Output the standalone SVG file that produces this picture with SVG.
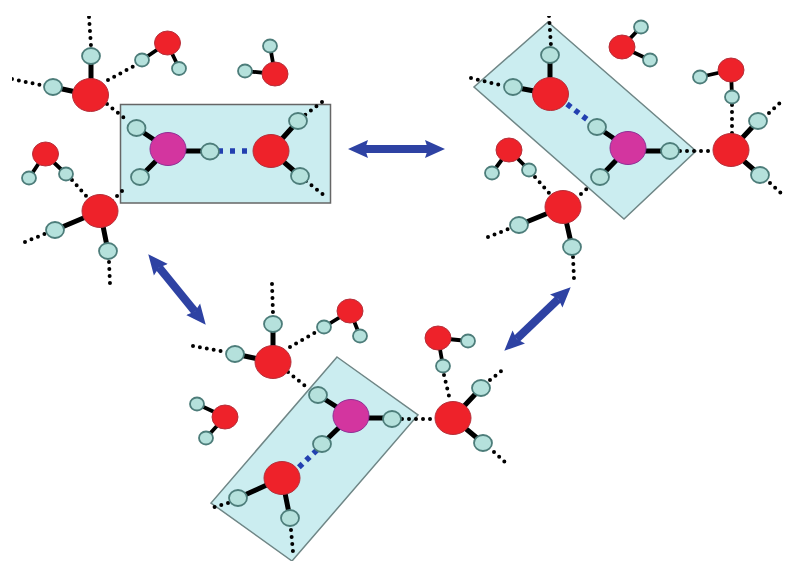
<svg xmlns="http://www.w3.org/2000/svg" width="800" height="574" viewBox="0 0 800 574">
<style>
.panel{fill:#cbedf0;stroke:#6f8686;stroke-width:1.5}
.O{fill:#ee2029;stroke:#b5303a;stroke-width:1}
.M{fill:#d3359f;stroke:#8f2f96;stroke-width:1}
.H{fill:#b5e1dc;stroke:#4d7d7a;stroke-width:1.800}
.b{stroke:#000;stroke-width:5;fill:none}
.bs{stroke:#000;stroke-width:3.800;fill:none}
.d{stroke:#000;stroke-width:4;stroke-linecap:round;stroke-dasharray:0 7;fill:none}
.hb{stroke:#2440b0;stroke-width:5.500;stroke-dasharray:5 5;fill:none}
.a{stroke:#2e43a3;stroke-width:8;fill:none;marker-start:url(#head);marker-end:url(#head)}
</style>
<defs>
<marker id="head" markerUnits="userSpaceOnUse" markerWidth="22" markerHeight="22" viewBox="0 0 22 22" refX="3" refY="11" orient="auto-start-reverse">
<path d="M0 2L20 11L0 20L3 11Z" fill="#2e43a3"/>
</marker>
<filter id="soft" x="0" y="0" width="100%" height="100%"><feGaussianBlur stdDeviation="0.5"/></filter>
</defs>
<rect width="800" height="574" fill="#fff"/>
<g filter="url(#soft)">
<g id="panels">
<rect id="panel-top-left" class="panel" x="120.500" y="104.500" width="210" height="98.500" style="stroke:#666"/>
<polygon id="panel-top-right" class="panel" points="548,22 696,151 624,219 474,87"/>
<polygon id="panel-bottom" class="panel" points="337,357 418,415 292,561 211,503"/>
</g>
<g id="connectors">
<g id="hydrogen-bonds">
<path class="d" d="M89 17L91 46"/><path class="d" d="M12 79L45 86"/><path class="d" d="M108 80L136 65"/>
<path class="d" d="M107 104L128 121"/><path class="d" d="M72 180L88 198"/><path class="d" d="M122 191L110 203"/>
<path class="d" d="M25 242L47 233"/><path class="d" d="M109 262L110 284"/>
<path class="d" d="M322 102L305 115"/><path class="d" d="M306 181L325 196"/>
<path class="d" d="M549 16L551 46"/><path class="d" d="M471 78L504 86"/>
<path class="d" d="M680 151L710 151"/><path class="d" d="M732 105L732 134"/>
<path class="d" d="M769 113L783 100"/><path class="d" d="M770 183L783 195"/>
<path class="d" d="M535 177L549 193"/><path class="d" d="M581 194L591 185"/>
<path class="d" d="M488 237L511 228"/><path class="d" d="M573 257L574 279"/>
<path class="d" d="M272 284L273 314"/><path class="d" d="M193 346L226 352"/>
<path class="d" d="M290 347L318 331"/><path class="d" d="M288 372L309 389"/>
<path class="d" d="M402 419L432 419"/><path class="d" d="M444 375L449 396"/>
<path class="d" d="M490 380L505 368"/><path class="d" d="M494 452L506 463"/>
<path class="d" d="M228 503L208 509"/><path class="d" d="M291 530L293 552"/>
<path class="hb" style="stroke-dasharray:5 7" d="M218 151L250 151"/>
<path class="hb" d="M567 104L589 121"/>
<path class="hb" d="M317 450L297 469"/>
</g>
<g id="arrows">
<path class="a" d="M365 149L428 149"/>
<path class="a" d="M159 267.400L195 311.600"/>
<path class="a" d="M558.400 299L516.600 339"/>
</g>
</g>
<g id="w1"><path class="b" d="M91 95L91 56M90 95L53 87"/><ellipse class="H" cx="91" cy="56" rx="9" ry="8"/><ellipse class="H" cx="53" cy="87" rx="9" ry="8"/><ellipse class="O" cx="90.500" cy="95" rx="18" ry="16.500"/></g>
<g id="w2"><path class="bs" d="M142 60L167 43L179 68"/><ellipse class="H" cx="142" cy="60" rx="7" ry="6.500"/><ellipse class="H" cx="179" cy="68.500" rx="7" ry="6.500"/><ellipse class="O" cx="167.500" cy="43" rx="13" ry="12"/></g>
<g id="w3"><path class="bs" d="M270 46L275 74L245 71"/><ellipse class="H" cx="270" cy="46" rx="7" ry="6.500"/><ellipse class="H" cx="245" cy="71" rx="7" ry="6.500"/><ellipse class="O" cx="275" cy="74" rx="13" ry="12"/></g>
<g id="w4"><path class="bs" d="M29 178L45 154L66 174"/><ellipse class="H" cx="29" cy="178" rx="7" ry="6.500"/><ellipse class="H" cx="66" cy="174" rx="7" ry="6.500"/><ellipse class="O" cx="45.500" cy="154" rx="13" ry="12"/></g>
<g id="w5"><path class="b" d="M100 211L55 230M100 211L108 251"/><ellipse class="H" cx="55" cy="230" rx="9" ry="8"/><ellipse class="H" cx="108" cy="251" rx="9" ry="8"/><ellipse class="O" cx="100" cy="211" rx="18" ry="16.500"/></g>
<g id="w6-center"><path class="b" d="M168 149L136.500 128M168 149L140 177M168 151L210 151"/><ellipse class="H" cx="136.500" cy="128" rx="9" ry="8"/><ellipse class="H" cx="140" cy="177" rx="9" ry="8"/><ellipse class="H" cx="210" cy="151.500" rx="9" ry="8"/><ellipse class="M" cx="168" cy="149" rx="18" ry="16.500"/></g>
<g id="w7"><path class="b" d="M271 151L298 121M271 151L300 176"/><ellipse class="H" cx="298" cy="121" rx="9" ry="8"/><ellipse class="H" cx="300" cy="176" rx="9" ry="8"/><ellipse class="O" cx="271" cy="151" rx="18" ry="16.500"/></g>

<g id="w8"><path class="b" d="M550 94L550 55M550 94L513 87"/><ellipse class="H" cx="550" cy="55" rx="9" ry="8"/><ellipse class="H" cx="513" cy="87" rx="9" ry="8"/><ellipse class="O" cx="550.500" cy="94" rx="18" ry="16.500"/></g>
<g id="w9-center"><path class="b" d="M628 148L597 127M628 148L600 177M628 151L670 151"/><ellipse class="H" cx="597" cy="127" rx="9" ry="8"/><ellipse class="H" cx="600" cy="177" rx="9" ry="8"/><ellipse class="H" cx="670" cy="151" rx="9" ry="8"/><ellipse class="M" cx="628" cy="148" rx="18" ry="16.500"/></g>
<g id="w10"><path class="bs" d="M641 27L622 47L650 60"/><ellipse class="H" cx="641" cy="27" rx="7" ry="6.500"/><ellipse class="H" cx="650" cy="60" rx="7" ry="6.500"/><ellipse class="O" cx="622" cy="47" rx="13" ry="12"/></g>
<g id="w11"><path class="bs" d="M700 77L731 70L732 97"/><ellipse class="H" cx="700" cy="77" rx="7" ry="6.500"/><ellipse class="H" cx="732" cy="97" rx="7" ry="6.500"/><ellipse class="O" cx="731" cy="70" rx="13" ry="12"/></g>
<g id="w12"><path class="b" d="M731 150L758 121M731 150L760 175"/><ellipse class="H" cx="758" cy="121" rx="9" ry="8"/><ellipse class="H" cx="760" cy="175" rx="9" ry="8"/><ellipse class="O" cx="731" cy="150" rx="18" ry="16.500"/></g>
<g id="w13"><path class="bs" d="M492 173L509 150L529 170"/><ellipse class="H" cx="492" cy="173" rx="7" ry="6.500"/><ellipse class="H" cx="529" cy="170" rx="7" ry="6.500"/><ellipse class="O" cx="509" cy="150" rx="13" ry="12"/></g>
<g id="w14"><path class="b" d="M563 207L519 225M563 207L572 247"/><ellipse class="H" cx="519" cy="225" rx="9" ry="8"/><ellipse class="H" cx="572" cy="247" rx="9" ry="8"/><ellipse class="O" cx="563" cy="207" rx="18" ry="16.500"/></g>

<g id="w15"><path class="b" d="M273 362L273 324M273 362L235 354"/><ellipse class="H" cx="273" cy="324" rx="9" ry="8"/><ellipse class="H" cx="235" cy="354" rx="9" ry="8"/><ellipse class="O" cx="273" cy="362" rx="18" ry="16.500"/></g>
<g id="w16"><path class="bs" d="M324 327L350 311L360 336"/><ellipse class="H" cx="324" cy="327" rx="7" ry="6.500"/><ellipse class="H" cx="360" cy="336" rx="7" ry="6.500"/><ellipse class="O" cx="350" cy="311" rx="13" ry="12"/></g>
<g id="w17"><path class="bs" d="M197 404L225 417L206 438"/><ellipse class="H" cx="197" cy="404" rx="7" ry="6.500"/><ellipse class="H" cx="206" cy="438" rx="7" ry="6.500"/><ellipse class="O" cx="225" cy="417" rx="13" ry="12"/></g>
<g id="w18-center"><path class="b" d="M351 416L318 395M351 416L322 444M351 418L392 418"/><ellipse class="H" cx="318" cy="395" rx="9" ry="8"/><ellipse class="H" cx="322" cy="444" rx="9" ry="8"/><ellipse class="H" cx="392" cy="419" rx="9" ry="8"/><ellipse class="M" cx="351" cy="416" rx="18" ry="16.500"/></g>
<g id="w19"><path class="b" d="M282 478L238 498M282 478L290 518"/><ellipse class="H" cx="238" cy="498" rx="9" ry="8"/><ellipse class="H" cx="290" cy="518" rx="9" ry="8"/><ellipse class="O" cx="282" cy="478" rx="18" ry="16.500"/></g>
<g id="w20"><path class="bs" d="M468 341L438 338L443 366"/><ellipse class="H" cx="468" cy="341" rx="7" ry="6.500"/><ellipse class="H" cx="443" cy="366" rx="7" ry="6.500"/><ellipse class="O" cx="438" cy="338" rx="13" ry="12"/></g>
<g id="w21"><path class="b" d="M453 418L481 388M453 418L483 443"/><ellipse class="H" cx="481" cy="388" rx="9" ry="8"/><ellipse class="H" cx="483" cy="443" rx="9" ry="8"/><ellipse class="O" cx="453" cy="418" rx="18" ry="16.500"/></g>
</g>
</svg>
